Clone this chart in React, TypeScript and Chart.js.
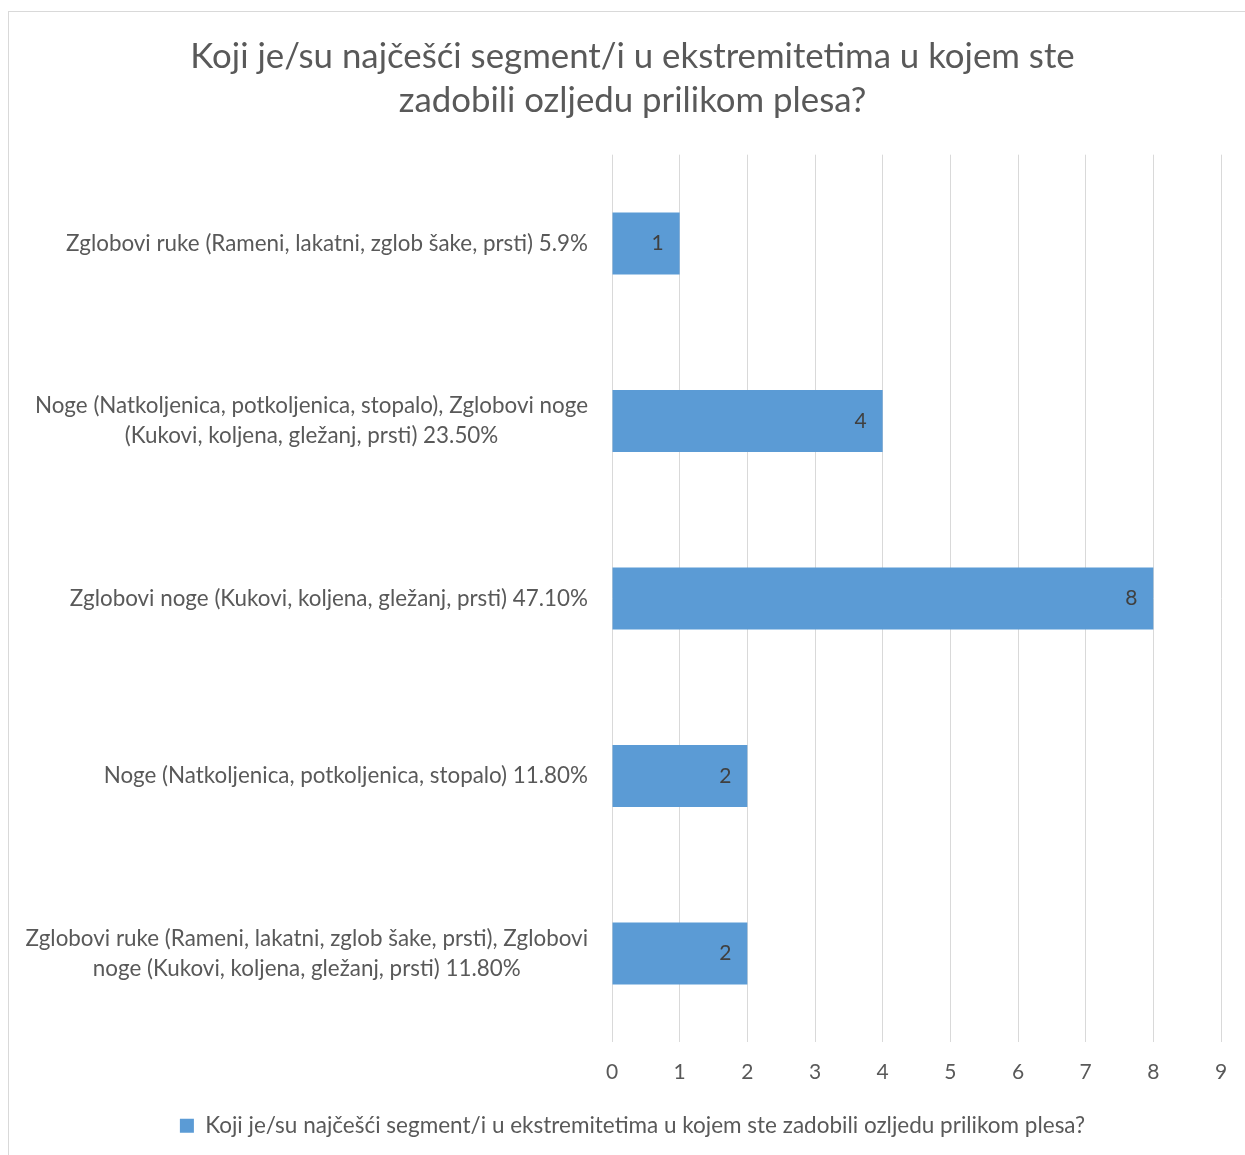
import React, { useEffect, useRef } from "react";
import { Chart, registerables } from "chart.js";

Chart.register(...registerables);

const titleLines = [
  "Koji je/su najčešći segment/i u ekstremitetima u kojem ste",
  "zadobili ozljedu prilikom plesa?",
];

const categories: string[][] = [
  ["Zglobovi ruke (Rameni, lakatni, zglob šake, prsti) 5.9%"],
  ["Noge (Natkoljenica, potkoljenica, stopalo), Zglobovi noge", "(Kukovi, koljena, gležanj, prsti) 23.50%"],
  ["Zglobovi noge (Kukovi, koljena, gležanj, prsti) 47.10%"],
  ["Noge (Natkoljenica, potkoljenica, stopalo) 11.80%"],
  ["Zglobovi ruke (Rameni, lakatni, zglob šake, prsti), Zglobovi", "noge (Kukovi, koljena, gležanj, prsti) 11.80%"],
];

const values = [1, 4, 8, 2, 2];

const seriesLabel =
  "Koji je/su najčešći segment/i u ekstremitetima u kojem ste zadobili ozljedu prilikom plesa?";

const xMin = 0;
const xMax = 9;
const xStep = 1;

const FONT = "Lato, 'Open Sans', sans-serif";
const BAR_COLOR = "#5B9BD5";
const TEXT_COLOR = "#595959";

const labelPlugin = {
  id: "catLabels",
  afterDraw(chart: any) {
    const { ctx, chartArea, scales } = chart;
    const y = scales.y;
    ctx.save();
    ctx.font = `22.4px ${FONT}`;
    ctx.textBaseline = "middle";
    ctx.textAlign = "center";
    ctx.fillStyle = TEXT_COLOR;
    const right = chartArea.left - 24;
    const lh = 30;
    categories.forEach((lines, i) => {
      const cy = y.getPixelForValue(i);
      const maxW = Math.max(...lines.map((l) => ctx.measureText(l).width));
      const cx = right - maxW / 2;
      lines.forEach((l, j) => {
        ctx.fillText(l, cx, cy + (j - (lines.length - 1) / 2) * lh);
      });
    });
    const meta = chart.getDatasetMeta(0);
    ctx.font = `21px ${FONT}`;
    ctx.fillStyle = "#404040";
    meta.data.forEach((bar: any, i: number) => {
      ctx.fillText(String(values[i]), bar.x - 22, bar.y);
    });
    ctx.restore();
  },
};

export default function App() {
  const ref = useRef<HTMLCanvasElement>(null);
  useEffect(() => {
    if (!ref.current) return;
    const chart = new Chart(ref.current, {
      type: "bar",
      data: {
        labels: categories.map((c) => c.join(" ")),
        datasets: [
          {
            label: seriesLabel,
            data: values,
            backgroundColor: BAR_COLOR,
            borderWidth: 0,
            barPercentage: 0.35,
            categoryPercentage: 1,
          },
        ],
      },
      options: {
        indexAxis: "y",
        responsive: false,
        animation: false,
        layout: { padding: { left: 0, right: 0, top: 0, bottom: 7 } },
        plugins: {
          title: {
            display: true,
            text: titleLines,
            font: { size: 34.8, family: FONT, weight: "normal" as any, lineHeight: 1.26 },
            color: TEXT_COLOR,
            padding: { top: 24, bottom: 32 },
          },
          legend: {
            position: "bottom",
            labels: {
              boxWidth: 14,
              boxHeight: 14,
              font: { size: 22.5, family: FONT },
              color: TEXT_COLOR,
              padding: 13,
            },
          },
          tooltip: { enabled: false },
        },
        scales: {
          x: {
            min: xMin,
            max: xMax,
            ticks: {
              stepSize: xStep,
              font: { size: 21, family: FONT },
              color: TEXT_COLOR,
              padding: 17,
            },
            grid: { color: "#d9d9d9", drawTicks: false },
            border: { display: false },
          },
          y: {
            ticks: { display: false },
            grid: { display: false },
            border: { display: false },
            afterFit: (s: any) => {
              s.width = 604;
            },
          },
          y2: {
            type: "category",
            position: "right",
            ticks: { display: false },
            grid: { display: false },
            border: { display: false },
            afterFit: (s: any) => {
              s.width = 36;
            },
          },
        },
      },
      plugins: [labelPlugin],
    });
    return () => chart.destroy();
  }, []);

  return (
    <div style={{ position: "absolute", left: 0, top: 0, width: 1245, height: 1155, overflow: "hidden", background: "#fff" }}>
      <div
        style={{
          position: "absolute",
          left: 8,
          top: 11,
          width: 1260,
          height: 1160,
          border: "1px solid #d9d9d9",
          boxSizing: "border-box",
        }}
      >
        <canvas ref={ref} width={1249} height={1143} style={{ position: "absolute", left: -1, top: -1 }} />
      </div>
    </div>
  );
}
